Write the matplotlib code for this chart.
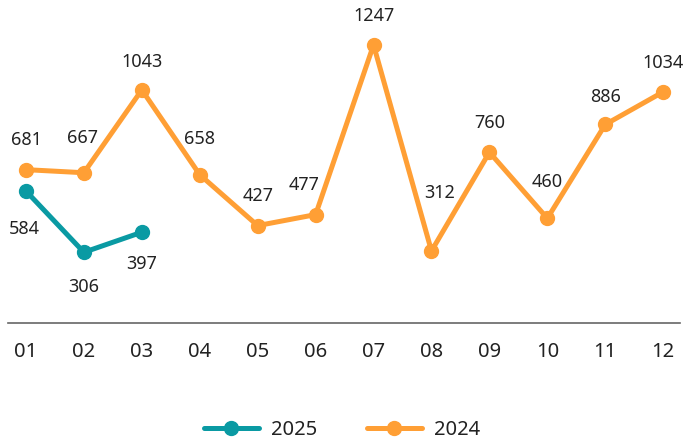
import matplotlib.pyplot as plt

plt.rcParams['font.family'] = ['Noto Sans', 'DejaVu Sans']

months = ["01", "02", "03", "04", "05", "06", "07", "08", "09", "10", "11", "12"]
vals_2024 = [681, 667, 1043, 658, 427, 477, 1247, 312, 760, 460, 886, 1034]
vals_2025 = [584, 306, 397]

# label offsets in points (vertical, horizontal)
off_2024 = [(21, 0), (25, -1), (20, 0), (26, 0), (21, 0), (21, -8), (21, 0), (42, 6), (21, 0), (26, 0), (20, 0), (21, 0)]
off_2025 = [(-27, -1), (-25, 0), (-23, 0)]

c25 = "#0a9aa3"
c24 = "#ff9f35"
tc = "#222222"


def plot():
	fig = plt.figure(figsize=(6.93, 4.43), dpi=100)
	ax = fig.add_axes([8 / 693, 120 / 443, 672 / 693, 323 / 443])
	x24 = list(range(len(vals_2024)))
	x25 = list(range(len(vals_2025)))
	ax.plot(x25, vals_2025, color=c25, lw=3.6, marker='o', ms=10, label="2025", zorder=3,
		solid_capstyle='round', solid_joinstyle='round')
	ax.plot(x24, vals_2024, color=c24, lw=3.6, marker='o', ms=10, label="2024", zorder=2,
		solid_capstyle='round', solid_joinstyle='round')
	for i, v in enumerate(vals_2024):
		dy, dx = off_2024[i]
		ax.annotate(str(v), (i, v), xytext=(dx, dy), textcoords='offset points',
			ha='center', va='center', fontsize=13, color=tc)
	for i, v in enumerate(vals_2025):
		dy, dx = off_2025[i]
		ax.annotate(str(v), (i, v), xytext=(dx, dy), textcoords='offset points',
			ha='center', va='center', fontsize=13, color=tc)
	ax.set_xlim(-0.31, 11.29)
	ax.set_ylim(-15, 1451)
	ax.set_xticks(x24)
	ax.set_xticklabels(months)
	ax.tick_params(axis='x', length=0, pad=14, labelsize=14.5, labelcolor=tc)
	ax.set_yticks([])
	for s in ['top', 'right', 'left']:
		ax.spines[s].set_visible(False)
	ax.spines['bottom'].set_color("#666666")
	ax.spines['bottom'].set_linewidth(1.2)
	ax.legend(loc='center', bbox_to_anchor=(0.497, -0.332), ncol=2, frameon=False,
		fontsize=14.5, handlelength=2.7, columnspacing=2.5, handletextpad=0.6,
		labelcolor=tc)
	fig.savefig("out.png", dpi=100)


if __name__ == "__main__":
	plot()
